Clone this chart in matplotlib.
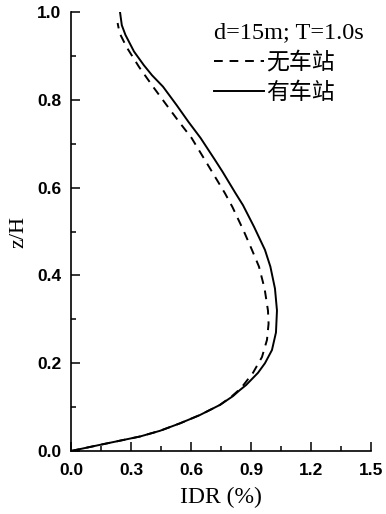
import numpy as np
import matplotlib
matplotlib.use("Agg")
import matplotlib.pyplot as plt
from matplotlib.ticker import MultipleLocator, FormatStrFormatter

# 数据
z_no = [0, 0.014, 0.033, 0.046, 0.063, 0.082, 0.105, 0.125, 0.139, 0.15,
        0.178, 0.214, 0.253, 0.29, 0.32, 0.37, 0.42, 0.458, 0.503,
        0.556, 0.587, 0.64, 0.713, 0.75, 0.788, 0.83, 0.875, 0.92, 0.952, 0.975]
idr_no = [0, 0.145, 0.345, 0.445, 0.545, 0.645, 0.745, 0.805, 0.84, 0.862,
          0.91, 0.955, 0.98, 0.988, 0.985, 0.968, 0.94, 0.905, 0.862,
          0.807, 0.77, 0.7, 0.603, 0.54, 0.478, 0.41, 0.34, 0.278, 0.243, 0.233]

z_yes = [0, 0.014, 0.033, 0.046, 0.063, 0.082, 0.105, 0.125, 0.139, 0.15,
         0.178, 0.20, 0.23, 0.27, 0.32, 0.37, 0.42, 0.458, 0.511,
         0.56, 0.587, 0.636, 0.663, 0.713, 0.75, 0.788, 0.83, 0.856, 0.879,
         0.91, 0.948, 0.97, 1.0]
idr_yes = [0, 0.145, 0.345, 0.445, 0.545, 0.645, 0.745, 0.81, 0.845, 0.875,
           0.935, 0.97, 1.005, 1.025, 1.03, 1.02, 0.997, 0.97, 0.915,
           0.86, 0.823, 0.758, 0.72, 0.648, 0.587, 0.528, 0.46, 0.405, 0.364,
           0.315, 0.272, 0.254, 0.245]

labels = ['无车站', '有车站']
legend_title = 'd=15m; T=1.0s'

fig = plt.figure(figsize=(3.86, 5.14), dpi=100)
ax = fig.add_axes([0.184, 0.1226, 0.777, 0.854])

ax.plot(idr_no, z_no, color='black', lw=1.4, dashes=(4.5, 3.5), label=labels[0])
ax.plot(idr_yes, z_yes, color='black', lw=1.4, label=labels[1])

ax.set_xlim(0, 1.5)
ax.set_ylim(0, 1.0)
ax.xaxis.set_major_locator(MultipleLocator(0.3))
ax.xaxis.set_minor_locator(MultipleLocator(0.15))
ax.yaxis.set_major_locator(MultipleLocator(0.2))
ax.yaxis.set_minor_locator(MultipleLocator(0.1))
ax.xaxis.set_major_formatter(FormatStrFormatter('%.1f'))
ax.yaxis.set_major_formatter(FormatStrFormatter('%.1f'))

ax.spines['top'].set_visible(False)
ax.spines['right'].set_visible(False)
ax.spines['left'].set_linewidth(1.2)
ax.spines['bottom'].set_linewidth(1.2)
ax.tick_params(which='major', direction='in', length=6.5, width=1.1)
ax.tick_params(axis='y', which='major', pad=7)
ax.tick_params(axis='x', which='major', pad=9)
ax.tick_params(which='minor', direction='in', length=3.5, width=1.1)
for lab in ax.get_xticklabels() + ax.get_yticklabels():
    lab.set_fontweight('bold')
    lab.set_fontfamily('Liberation Sans')
    lab.set_fontsize(12.5)

ax.set_xlabel('IDR (%)', family='Liberation Serif', fontsize=17, labelpad=6)
ax.set_ylabel('z/H', family='Liberation Serif', fontsize=16, labelpad=6)

leg = ax.legend(loc='upper left', bbox_to_anchor=(0.468, 0.982), frameon=False,
                title=legend_title, handlelength=2.2, handletextpad=0.1,
                labelspacing=0.33, borderaxespad=0, borderpad=0.1,
                prop={'family': ['Noto Sans CJK SC', 'DejaVu Sans'], 'size': 16.5})
leg.get_title().set_fontfamily('Liberation Serif')
leg.get_title().set_fontsize(17.5)
leg._legend_box.align = 'left'
for line in leg.get_lines():
    line.set_linewidth(1.4)

fig.savefig('out.png', dpi=100)
